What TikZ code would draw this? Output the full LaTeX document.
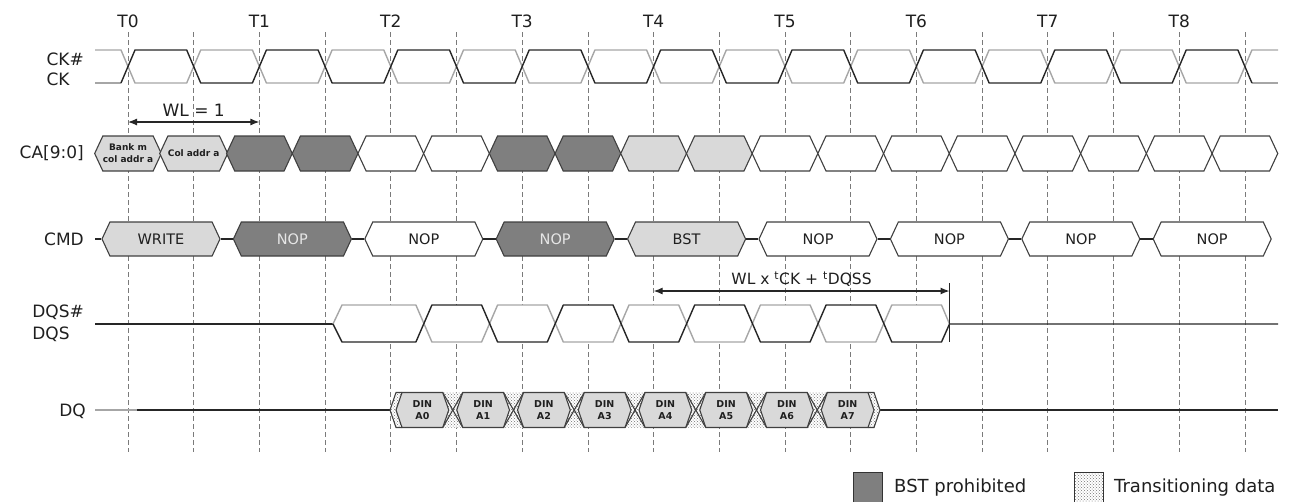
\documentclass[tikz,border=0pt]{standalone}
\usepackage{fontspec}
\setmainfont{DejaVu Sans}
\usepackage{xcolor}
\usepackage{tikz}
\usetikzlibrary{calc, positioning, shapes.symbols, patterns, arrows.meta}

\definecolor{prohib}{HTML}{7F7F7F}
\definecolor{lightcell}{HTML}{D9D9D9}
\definecolor{ckgray}{HTML}{A6A6A6}
\definecolor{gridgray}{HTML}{7A7A7A}
\definecolor{cellline}{HTML}{404040}
\definecolor{inktext}{HTML}{1F1F1F}
\definecolor{softtext}{HTML}{E6E6E6}

\tikzset{
  siglabel/.style={font=\fontsize{17}{20}\selectfont, text=inktext, align=left, anchor=east, inner sep=0pt},
  tlabel/.style={font=\fontsize{17}{20}\selectfont, text=inktext, inner sep=0pt},
  legtext/.style={font=\fontsize{18}{21}\selectfont, text=inktext, inner sep=0pt},
  gridline/.style={gridgray, line width=0.7pt, dash pattern=on 5pt off 3pt},
  wave/.style={line width=1.4pt, black!85, line join=round},
  wavegray/.style={line width=1.4pt, ckgray, line join=round},
  bus/.style={signal, signal to=east and west, draw=cellline, line width=1.1pt, inner sep=0pt},
  cabus/.style={bus, minimum width=65.7pt, minimum height=35pt, signal pointer angle=130,
    font=\fontsize{9}{12}\bfseries\selectfont, text=inktext, align=center},
  cmdbus/.style={bus, minimum width=118pt, minimum height=34pt, signal pointer angle=130,
    font=\fontsize{14.5}{17}\selectfont},
  dinbus/.style={bus, fill=lightcell, minimum width=52.75pt, minimum height=35pt, signal pointer angle=142,
    font=\fontsize{9.5}{11.5}\bfseries\selectfont, text=inktext, align=center},
  transzone/.style={pattern=crosshatch dots, pattern color=black!55},
  spanarrow/.style={<->, >={Latex[length=9pt,width=7pt]}, line width=1.2pt, black!85},
}

\begin{document}
\begin{tikzpicture}[x=1pt, y=-1pt]
    \useasboundingbox (0,0) rectangle (1298,501);

    % clock edges
    \foreach \i in {0,...,17} {
        \draw[gridline] ({128+65.7*\i},32) -- ({128+65.7*\i},452);
    }
    \foreach \i in {0,...,8} {
        \node[tlabel] (T\i) at ({128+131.4*\i},21) {T\i};
    }

    % row names
    \node[siglabel] (cklbl) at (84,69) {CK\#\\CK};
    \node[siglabel] (calbl) at (84,153.5) {CA[9:0]};
    \node[siglabel] (cmdlbl) at (84,239) {CMD};
    \node[siglabel] (dqslbl) at (84,323) {DQS\#\\[2pt]DQS};
    \node[siglabel] (dqlbl) at (86,411) {DQ};

    % CK# and CK
    \draw[wavegray] (95,50) -- (121,50)
        \foreach \k [evaluate=\k as \y using {mod(\k,2)==0 ? 83 : 50}] in {0,...,16} {
            -- ({135+65.7*\k},\y) -- ({121+65.7*(\k+1)},\y) }
        -- (1251.9,50) -- (1278,50);
    \draw[wavegray] (95,83) -- (121,83);
    \draw[wavegray] (1251.9,83) -- (1278,83);
    \draw[wave] (121,83)
        \foreach \k [evaluate=\k as \y using {mod(\k,2)==0 ? 50 : 83}] in {0,...,16} {
            -- ({135+65.7*\k},\y) -- ({121+65.7*(\k+1)},\y) }
        -- (1251.9,83);

    % WL = 1
    \coordinate (wlL) at (128,122);
    \coordinate (wlR) at (259.4,122);
    \draw[spanarrow] (wlL) -- node[tlabel, above=5pt] (wltxt) {WL = 1} (wlR);

    % CA[9:0]
    \foreach \k/\f/\t in {0/lightcell/{Bank m\\col addr a}, 1/lightcell/{Col addr a},
        2/prohib/{}, 3/prohib/{}, 4/white/{}, 5/white/{}, 6/prohib/{}, 7/prohib/{},
        8/lightcell/{}, 9/lightcell/{}, 10/white/{}, 11/white/{}, 12/white/{},
        13/white/{}, 14/white/{}, 15/white/{}, 16/white/{}, 17/white/{}} {
        \node[cabus, fill=\f] (ca\k) at ({128+65.7*\k},153.5) {\t};
    }

    % CMD
    \coordinate (cmdstart) at (95,239);
    \foreach \k/\f/\tc/\t in {0/lightcell/inktext/WRITE, 1/prohib/softtext/NOP,
        2/white/inktext/NOP, 3/prohib/softtext/NOP, 4/lightcell/inktext/BST,
        5/white/inktext/NOP, 6/white/inktext/NOP, 7/white/inktext/NOP, 8/white/inktext/NOP} {
        \node[cmdbus, fill=\f, text=\tc] (cmd\k) at ({161+131.4*\k},239) {\t};
    }
    \draw[wave] (cmdstart) -- (cmd0.west);
    \foreach \k [evaluate=\k as \n using int(\k+1)] in {0,...,7} {
        \draw[wave] (cmd\k.east) -- (cmd\n.west);
    }

    % DQS# and DQS
    \fill[white] (333,324) -- (342,305) -- (940.5,305) -- (949.5,324) -- (940.5,342) -- (342,342) -- cycle;
    \draw[wave] (95,324) -- (333,324);
    \draw[wavegray] (333,324) -- (342,305) -- (415.9,305)
        \foreach \j [evaluate=\j as \y using {mod(\j,2)==0 ? 342 : 305}] in {0,...,7} {
            -- ({431.9+65.7*\j},\y) -- ({415.9+65.7*(\j+1)},\y) }
        -- (949.5,324);
    \draw[wave] (333,324) -- (342,342) -- (415.9,342)
        \foreach \j [evaluate=\j as \y using {mod(\j,2)==0 ? 305 : 342}] in {0,...,7} {
            -- ({431.9+65.7*\j},\y) -- ({415.9+65.7*(\j+1)},\y) }
        -- (949.5,324) -- (1278,324);

    % WL x tCK + tDQSS
    \coordinate (dqssL) at (653.6,291);
    \coordinate (dqssR) at (949.5,291);
    \coordinate (barT) at (949.5,283);
    \coordinate (barB) at (949.5,342);
    \draw[wave] (barT) -- (barB);
    \draw[spanarrow] (dqssL) -- node[tlabel, above=4pt, font=\fontsize{15.5}{18}\selectfont] (dqsstxt)
        {WL x \textsuperscript{t}CK + \textsuperscript{t}DQSS} (dqssR);

    % DQ
    \coordinate (dqstart) at (95,410);
    \coordinate (dqgray) at (137,410);
    \coordinate (dqin) at (390,410);
    \coordinate (dqout) at (880,410);
    \coordinate (dqend) at (1278,410);
    \draw[wavegray] (dqstart) -- (dqgray);
    \draw[wave] (dqgray) -- (dqin);
    \draw[wave] (dqout) -- (dqend);
    \fill[white] (396,392.5) -- (402,392.5) -- (396,410) -- (402,427.5) -- (396,427.5) -- (390,410) -- cycle;
    \fill[transzone] (396,392.5) -- (402,392.5) -- (396,410) -- (402,427.5) -- (396,427.5) -- (390,410) -- cycle;
    \draw[cellline, line width=1.1pt] (402,392.5) -- (396,392.5) -- (390,410) -- (396,427.5) -- (402,427.5);
    \fill[white] (874,392.5) -- (868,392.5) -- (874,410) -- (868,427.5) -- (874,427.5) -- (880,410) -- cycle;
    \fill[transzone] (874,392.5) -- (868,392.5) -- (874,410) -- (868,427.5) -- (874,427.5) -- (880,410) -- cycle;
    \draw[cellline, line width=1.1pt] (868,392.5) -- (874,392.5) -- (880,410) -- (874,427.5) -- (868,427.5);
    \foreach \i [evaluate=\i as \bx using 392+60.75*\i] in {1,...,7} {
        \fill[white] ({\bx-10},392.5) -- ({\bx+10},392.5) -- ({\bx+4},410) -- ({\bx+10},427.5)
            -- ({\bx-10},427.5) -- ({\bx-4},410) -- cycle;
        \fill[transzone] ({\bx-10},392.5) -- ({\bx+10},392.5) -- ({\bx+4},410) -- ({\bx+10},427.5)
            -- ({\bx-10},427.5) -- ({\bx-4},410) -- cycle;
        \draw[cellline, line width=1.1pt] ({\bx-10},392.5) -- ({\bx+10},427.5);
        \draw[cellline, line width=1.1pt] ({\bx-10},427.5) -- ({\bx+10},392.5);
    }
    \foreach \i in {0,...,7} {
        \node[dinbus] (din\i) at ({422.375+60.75*\i},410) {DIN\\A\i};
    }

    % legend
    \node[draw=black!80, fill=prohib, line width=1pt, minimum width=29pt, minimum height=30pt,
        inner sep=0pt, anchor=north west] (legbst) at (853,472) {};
    \node[legtext, right=11pt of legbst] (legbsttxt) {BST prohibited};
    \node[draw=black!80, transzone, line width=1pt, minimum width=29pt, minimum height=30pt,
        inner sep=0pt, anchor=north west] (legtr) at (1074,472) {};
    \node[legtext, right=10pt of legtr] (legtrtxt) {Transitioning data};

\end{tikzpicture}
\end{document}
